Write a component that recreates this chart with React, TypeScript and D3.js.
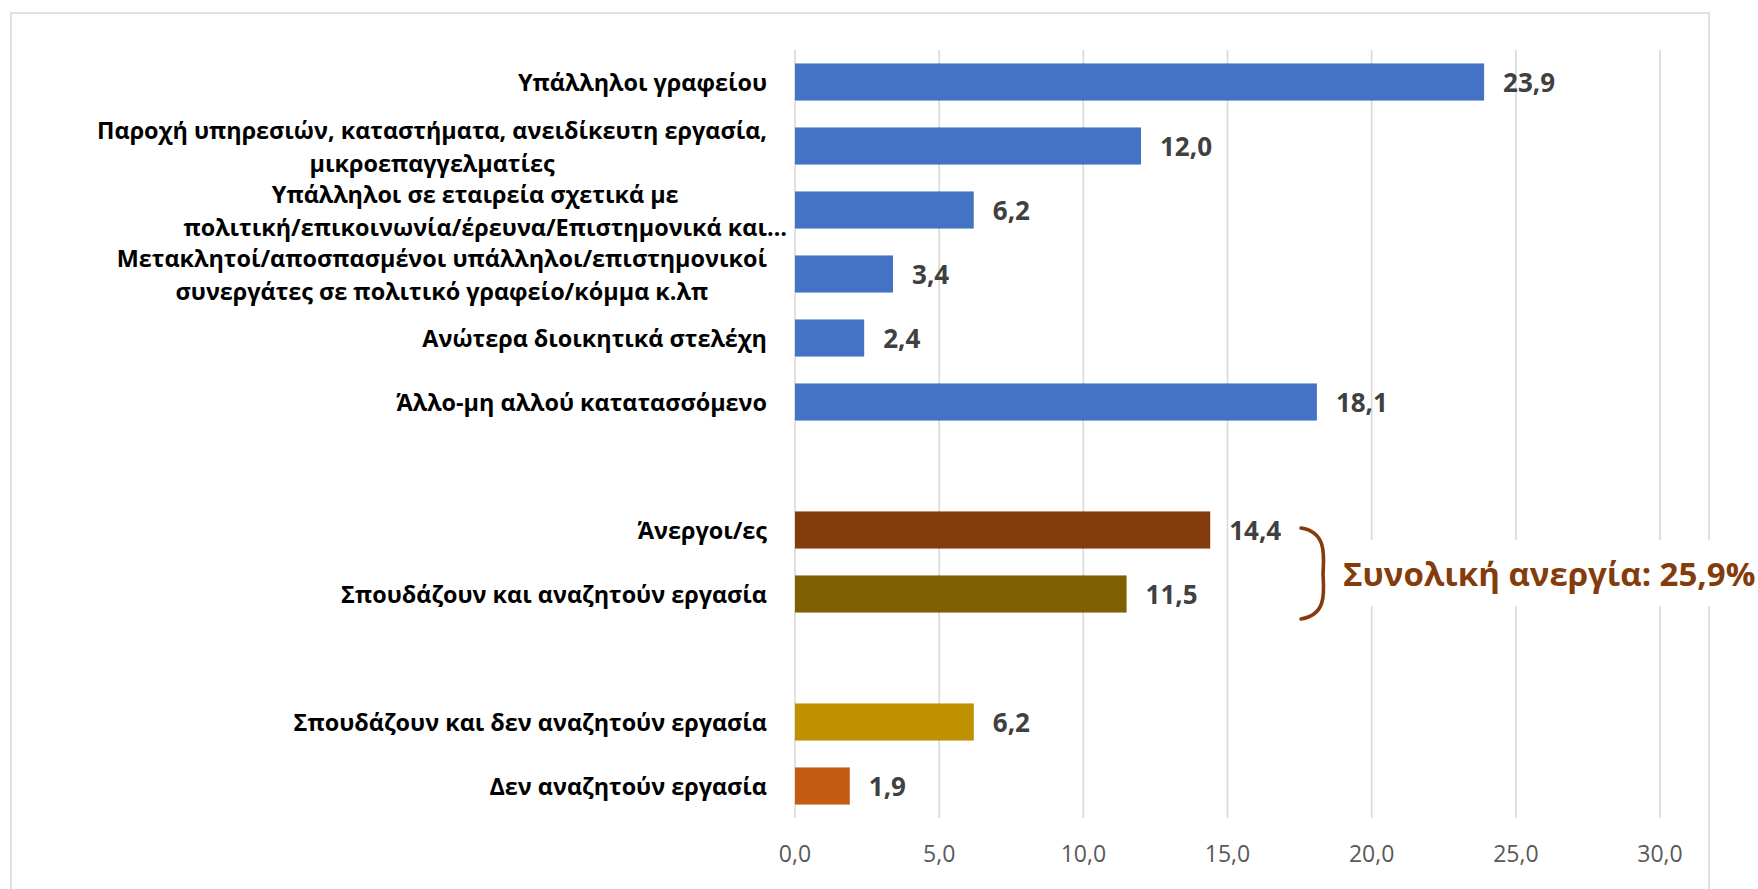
import React, { useEffect, useRef } from 'react';
import * as d3 from 'd3';

// ---------- data ----------
const categories: string[][] = [
  ['Υπάλληλοι γραφείου'],
  ['Παροχή υπηρεσιών, καταστήματα, ανειδίκευτη εργασία,', 'μικροεπαγγελματίες'],
  ['Υπάλληλοι σε εταιρεία σχετικά με', 'πολιτική/επικοινωνία/έρευνα/Επιστημονικά και…'],
  ['Μετακλητοί/αποσπασμένοι υπάλληλοι/επιστημονικοί', 'συνεργάτες σε πολιτικό γραφείο/κόμμα κ.λπ'],
  ['Ανώτερα διοικητικά στελέχη'],
  ['Άλλο-μη αλλού κατατασσόμενο'],
  [],
  ['Άνεργοι/ες'],
  ['Σπουδάζουν και αναζητούν εργασία'],
  [],
  ['Σπουδάζουν και δεν αναζητούν εργασία'],
  ['Δεν αναζητούν εργασία'],
];
const values: (number | null)[] = [23.9, 12.0, 6.2, 3.4, 2.4, 18.1, null, 14.4, 11.5, null, 6.2, 1.9];
const barColors: (string | null)[] = [
  '#4472C4', '#4472C4', '#4472C4', '#4472C4', '#4472C4', '#4472C4',
  null, '#843C0C', '#7F6000', null, '#BF9000', '#C55A11',
];
const xTicks = [0, 5, 10, 15, 20, 25, 30];
const annotationText = 'Συνολική ανεργία: 25,9%';

const W = 1758;
const H = 889;
const FONT = "'Open Sans', 'Noto Sans', 'DejaVu Sans', sans-serif";
const LABEL_SIZE = 23.4;
const LABEL_WEIGHT = 700;

export default function App() {
  const ref = useRef<SVGSVGElement | null>(null);

  useEffect(() => {
    document.body.style.margin = '0';
    const svg = d3.select(ref.current);
    svg.selectAll('*').remove();

    const locale = d3.formatLocale({ decimal: ',', thousands: '.', grouping: [3], currency: ['', '€'] });
    const fmt = locale.format('.1f');

    const x = d3.scaleLinear().domain([0, 30]).range([795, 1660]);
    const y = d3
      .scaleBand<number>()
      .domain(d3.range(categories.length))
      .range([50, 818])
      .paddingInner(0.42)
      .paddingOuter(0.21);

    // outer border
    svg
      .append('rect')
      .attr('x', 11)
      .attr('y', 13)
      .attr('width', 1698)
      .attr('height', 920)
      .attr('fill', 'none')
      .attr('stroke', '#D9D9D9')
      .attr('stroke-width', 1.6);

    // gridlines
    svg
      .append('g')
      .selectAll('line')
      .data(xTicks)
      .join('line')
      .attr('x1', (d) => x(d))
      .attr('x2', (d) => x(d))
      .attr('y1', 50)
      .attr('y2', 818)
      .attr('stroke', '#D9D9D9')
      .attr('stroke-width', 1.6);

    // tick labels
    svg
      .append('g')
      .selectAll('text')
      .data(xTicks)
      .join('text')
      .attr('x', (d) => x(d))
      .attr('y', 853)
      .attr('text-anchor', 'middle')
      .attr('dominant-baseline', 'central')
      .attr('font-family', FONT)
      .attr('font-size', 23)
      .attr('fill', '#595959')
      .text((d) => fmt(d));

    const idx = d3.range(categories.length).filter((i) => values[i] !== null);

    // bars
    svg
      .append('g')
      .selectAll('rect')
      .data(idx)
      .join('rect')
      .attr('x', x(0))
      .attr('y', (i) => y(i)!)
      .attr('width', (i) => x(values[i] as number) - x(0))
      .attr('height', y.bandwidth())
      .attr('fill', (i) => barColors[i] as string);

    // value labels
    svg
      .append('g')
      .selectAll('text')
      .data(idx)
      .join('text')
      .attr('x', (i) => x(values[i] as number) + 19)
      .attr('y', (i) => y(i)! + y.bandwidth() / 2)
      .attr('dominant-baseline', 'central')
      .attr('font-family', FONT)
      .attr('font-weight', 700)
      .attr('font-size', 26)
      .attr('fill', '#404040')
      .text((i) => fmt(values[i] as number));

    // category labels
    const labelRight = 767;
    const lineGap = 33;
    const lg = svg.append('g');
    const measure = (s: string) => {
      const t = lg
        .append('text')
        .attr('font-family', FONT)
        .attr('font-weight', LABEL_WEIGHT)
        .attr('font-size', LABEL_SIZE)
        .text(s);
      const w = (t.node() as SVGTextElement).getComputedTextLength();
      t.remove();
      return w;
    };
    categories.forEach((lines, i) => {
      if (!lines.length) return;
      const cy = y(i)! + y.bandwidth() / 2;
      if (lines.length === 1) {
        lg.append('text')
          .attr('x', labelRight)
          .attr('y', cy)
          .attr('text-anchor', 'end')
          .attr('dominant-baseline', 'central')
          .attr('font-family', FONT)
          .attr('font-weight', LABEL_WEIGHT)
          .attr('font-size', LABEL_SIZE)
          .attr('fill', '#000')
          .text(lines[0]);
        return;
      }
      // widths ignoring a trailing ellipsis, which overflows the label area
      const widths = lines.map((ln) => measure(ln.replace(/…$/, '')));
      const maxW = d3.max(widths) as number;
      const center = labelRight - maxW / 2;
      lines.forEach((ln, k) => {
        lg.append('text')
          .attr('x', center - widths[k] / 2)
          .attr('y', cy + 0.5 + (k - (lines.length - 1) / 2) * lineGap)
          .attr('text-anchor', 'start')
          .attr('dominant-baseline', 'central')
          .attr('font-family', FONT)
          .attr('font-weight', LABEL_WEIGHT)
          .attr('font-size', LABEL_SIZE)
          .attr('fill', '#000')
          .text(ln);
      });
    });

    // annotation: white box, bracket, text
    svg
      .append('rect')
      .attr('x', 1336)
      .attr('y', 540)
      .attr('width', 422)
      .attr('height', 66)
      .attr('fill', '#fff');

    svg
      .append('path')
      .attr('d', 'M1301,528 C1327,532 1324,556 1323,574 C1324,592 1327,615 1301,619')
      .attr('fill', 'none')
      .attr('stroke', '#843C0C')
      .attr('stroke-width', 3.6)
      .attr('stroke-linecap', 'round');

    svg
      .append('text')
      .attr('x', 1343)
      .attr('y', 573)
      .attr('dominant-baseline', 'central')
      .attr('font-family', FONT)
      .attr('font-weight', 700)
      .attr('font-size', 33)
      .attr('fill', '#843C0C')
      .text(annotationText);
  }, []);

  return (
    <svg
      ref={ref}
      width={W}
      height={H}
      style={{ position: 'absolute', left: 0, top: 0, display: 'block', background: '#fff' }}
    />
  );
}
